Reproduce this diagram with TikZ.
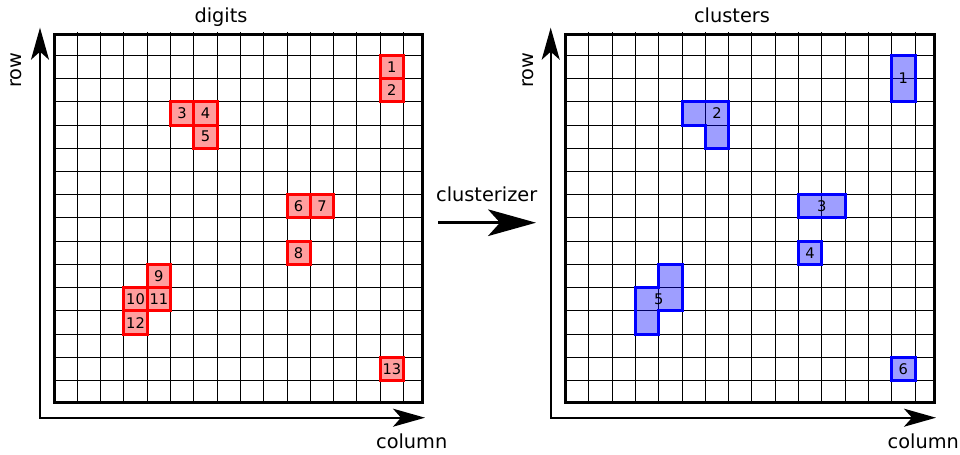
\documentclass[tikz,border=0pt]{standalone}
\usepackage{fontspec}
\setmainfont{DejaVu Sans}
\usetikzlibrary{arrows.meta}
\begin{document}
\begin{tikzpicture}[x=0.75pt,y=-0.75pt,
  gridline/.style={black, line width=0.75pt},
  gridborder/.style={black, line width=2.25pt},
  digitcell/.style={draw=red, line width=2.25pt, fill=red!38, minimum width=17.475pt, minimum height=17.43pt, inner sep=0pt, font=\fontsize{11}{13}\selectfont},
  clusterarea/.style={draw=blue, line width=2.25pt, fill=blue, fill opacity=0.38, line join=miter},
  clusterlabel/.style={inner sep=0pt, font=\fontsize{11}{13}\selectfont},
  title/.style={font=\fontsize{14.5}{17}\selectfont, inner sep=0pt, anchor=base},
  axis/.style={line width=1.5pt, {Stealth[length=24pt,width=13.5pt,inset=6pt]}-{Stealth[length=24pt,width=13.5pt,inset=6pt]}},
  bigarrow/.style={line width=2pt, -{Stealth[length=36pt,width=20pt,inset=9pt]}}
]
\useasboundingbox (0,0) rectangle (960,454);

% ---------- left panel: digits ----------
\begin{scope}[shift={(54,32.06)}, x=17.475pt, y=-17.43pt]
  \foreach \i in {1,...,15} \draw[gridline] (\i,0) -- (\i,15.95);
  \foreach \j in {1,...,15} \draw[gridline] (0,\j) -- (15.82,\j);
  \draw[gridborder] (0,0.096) rectangle (15.82,15.95);
  \node[digitcell] (d1)  at (14.5,1.5)  {1};
  \node[digitcell] (d2)  at (14.5,2.5)  {2};
  \node[digitcell] (d3)  at (5.5,3.5)   {3};
  \node[digitcell] (d4)  at (6.5,3.5)   {4};
  \node[digitcell] (d5)  at (6.5,4.5)   {5};
  \node[digitcell] (d6)  at (10.5,7.5)  {6};
  \node[digitcell] (d7)  at (11.5,7.5)  {7};
  \node[digitcell] (d8)  at (10.5,9.5)  {8};
  \node[digitcell] (d9)  at (4.5,10.5)  {9};
  \node[digitcell] (d10) at (3.5,11.5)  {10};
  \node[digitcell] (d11) at (4.5,11.5)  {11};
  \node[digitcell] (d12) at (3.5,12.5)  {12};
  \node[digitcell] (d13) at (14.5,14.5) {13};
\end{scope}

% ---------- right panel: clusters ----------
\begin{scope}[shift={(565.5,32.06)}, x=17.475pt, y=-17.43pt]
  \foreach \i in {1,...,15} \draw[gridline] (\i,0) -- (\i,15.95);
  \foreach \j in {1,...,15} \draw[gridline] (0,\j) -- (15.82,\j);
  \draw[gridborder] (0,0.096) rectangle (15.82,15.95);
  \draw[clusterarea] (14,1) rectangle (15,3);
  \draw[clusterarea] (5,3) -- (7,3) -- (7,5) -- (6,5) -- (6,4) -- (5,4) -- cycle;
  \draw[clusterarea] (10,7) rectangle (12,8);
  \draw[clusterarea] (10,9) rectangle (11,10);
  \draw[clusterarea] (4,10) -- (5,10) -- (5,12) -- (4,12) -- (4,13) -- (3,13) -- (3,11) -- (4,11) -- cycle;
  \draw[clusterarea] (14,14) rectangle (15,15);
  \node[clusterlabel] (c1) at (14.5,2)    {1};
  \node[clusterlabel] (c2) at (6.5,3.5)   {2};
  \node[clusterlabel] (c3) at (11,7.5)    {3};
  \node[clusterlabel] (c4) at (10.5,9.5)  {4};
  \node[clusterlabel] (c5) at (4,11.5)    {5};
  \node[clusterlabel] (c6) at (14.5,14.5) {6};
\end{scope}

% ---------- titles and axis labels ----------
\node[title] (tdigits)   at (221,22.7)   {digits};
\node[title] (tclusters) at (732,22.7)   {clusters};
\node[title] (tclz)      at (486.7,201.7) {clusterizer};
\node[title, rotate=90] (rowL) at (21.7,70)  {row};
\node[title, rotate=90] (rowR) at (533.3,70) {row};
\node[title] (colL) at (411.7,448.3) {column};
\node[title] (colR) at (923.3,448.3) {column};

% ---------- axes ----------
\coordinate (Ltop) at (40,27.7);
\coordinate (Lorig) at (40,417.7);
\coordinate (Lend) at (425,417.7);
\draw[axis] (Ltop) -- (Lorig) -- (Lend);
\coordinate (Rtop) at (550.7,27.7);
\coordinate (Rorig) at (550.7,417.7);
\coordinate (Rend) at (936,417.7);
\draw[axis] (Rtop) -- (Rorig) -- (Rend);

% ---------- clusterizer arrow ----------
\coordinate (arrS) at (438.3,222.7);
\coordinate (arrE) at (536,222.7);
\draw[bigarrow] (arrS) -- (arrE);
\end{tikzpicture}
\end{document}
